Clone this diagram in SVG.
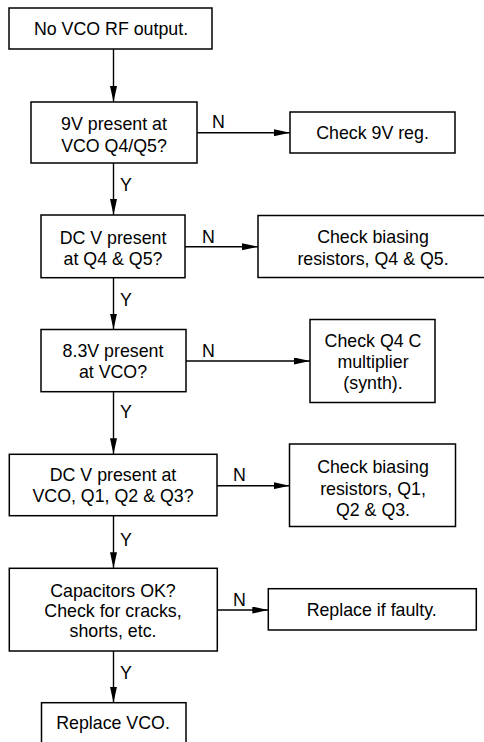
<svg xmlns="http://www.w3.org/2000/svg" width="484" height="742" viewBox="0 0 484 742">
  <style>
    .box { fill: #ffffff; stroke: #000000; stroke-width: 1.5; }
    .link { fill: none; stroke: #000000; stroke-width: 1.4; }
    text { font-family: "Liberation Sans", Arial, sans-serif; font-size: 17.8px; fill: #000000; }
    .c { text-anchor: middle; }
  </style>
  <defs>
    <marker id="arrow" viewBox="0 0 16 7" refX="16" refY="3.5" markerWidth="16" markerHeight="7" markerUnits="userSpaceOnUse" orient="auto">
      <path d="M0,0 L16,3.5 L0,7 Z" fill="#000000"/>
    </marker>
  </defs>
  <rect width="484" height="742" fill="#ffffff"/>

  <g id="connectors">
    <line class="link" x1="113.5" y1="49" x2="113.5" y2="102" marker-end="url(#arrow)"/>
    <line class="link" x1="113.5" y1="163" x2="113.5" y2="215" marker-end="url(#arrow)"/>
    <line class="link" x1="113.5" y1="277.7" x2="113.5" y2="329.5" marker-end="url(#arrow)"/>
    <line class="link" x1="113.5" y1="391.7" x2="113.5" y2="454.3" marker-end="url(#arrow)"/>
    <line class="link" x1="113.5" y1="515.7" x2="113.5" y2="568.3" marker-end="url(#arrow)"/>
    <line class="link" x1="113.5" y1="651" x2="113.5" y2="702.7" marker-end="url(#arrow)"/>

    <line class="link" x1="197" y1="132.7" x2="290" y2="132.7" marker-end="url(#arrow)"/>
    <line class="link" x1="185" y1="246.7" x2="258" y2="246.7" marker-end="url(#arrow)"/>
    <line class="link" x1="186" y1="361" x2="310" y2="361" marker-end="url(#arrow)"/>
    <line class="link" x1="217" y1="485.7" x2="289.5" y2="485.7" marker-end="url(#arrow)"/>
    <line class="link" x1="217.3" y1="610" x2="268.3" y2="610" marker-end="url(#arrow)"/>

    <text x="120" y="191">Y</text>
    <text x="120" y="306">Y</text>
    <text x="120" y="418">Y</text>
    <text x="120" y="545.6">Y</text>
    <text x="120" y="679">Y</text>

    <text x="212" y="128">N</text>
    <text x="202" y="243">N</text>
    <text x="202" y="357">N</text>
    <text x="233" y="481">N</text>
    <text x="233" y="606">N</text>
  </g>

  <g id="no-rf-output">
    <rect class="box" x="9" y="8" width="203" height="41"/>
    <text class="c" x="111" y="34.8">No VCO RF output.</text>
  </g>

  <g id="check-9v">
    <rect class="box" x="31" y="102" width="166" height="61"/>
    <text class="c" x="114" y="130">9V present at</text>
    <text class="c" x="114" y="152">VCO Q4/Q5?</text>
  </g>

  <g id="check-9v-reg">
    <rect class="box" x="290" y="112" width="165" height="41"/>
    <text class="c" x="372.5" y="139">Check 9V reg.</text>
  </g>

  <g id="check-dc-q4-q5">
    <rect class="box" x="41" y="215" width="144" height="62.7"/>
    <text class="c" x="113" y="243.5">DC V present</text>
    <text class="c" x="113" y="264.5">at Q4 &amp; Q5?</text>
  </g>

  <g id="check-bias-q4-q5">
    <rect class="box" x="258" y="215.5" width="240" height="62"/>
    <text class="c" x="373" y="243.3">Check biasing</text>
    <text class="c" x="373" y="265.3">resistors, Q4 &amp; Q5.</text>
  </g>

  <g id="check-8v3">
    <rect class="box" x="41" y="329.5" width="145" height="62.2"/>
    <text class="c" x="113" y="357">8.3V present</text>
    <text class="c" x="113" y="378">at VCO?</text>
  </g>

  <g id="check-c-multiplier">
    <rect class="box" x="310" y="319.5" width="125" height="83"/>
    <text class="c" x="373" y="347">Check Q4 C</text>
    <text class="c" x="373" y="368">multiplier</text>
    <text class="c" x="373" y="389">(synth).</text>
  </g>

  <g id="check-dc-vco">
    <rect class="box" x="9.3" y="454.3" width="207.7" height="61.4"/>
    <text class="c" x="113" y="481">DC V present at</text>
    <text class="c" x="113" y="502">VCO, Q1, Q2 &amp; Q3?</text>
  </g>

  <g id="check-bias-q1-q3">
    <rect class="box" x="289.5" y="444" width="166" height="82.5"/>
    <text class="c" x="373" y="473.3">Check biasing</text>
    <text class="c" x="373" y="494.8">resistors, Q1,</text>
    <text class="c" x="373" y="516.3">Q2 &amp; Q3.</text>
  </g>

  <g id="check-capacitors">
    <rect class="box" x="9.3" y="568.3" width="208" height="82.7"/>
    <text class="c" x="113" y="597">Capacitors OK?</text>
    <text class="c" x="113" y="617">Check for cracks,</text>
    <text class="c" x="113" y="637">shorts, etc.</text>
  </g>

  <g id="replace-if-faulty">
    <rect class="box" x="268.3" y="588.7" width="208" height="41.3"/>
    <text class="c" x="371.7" y="615.8">Replace if faulty.</text>
  </g>

  <g id="replace-vco">
    <rect class="box" x="41.5" y="702.7" width="144.5" height="50"/>
    <text class="c" x="113" y="729">Replace VCO.</text>
  </g>
</svg>
